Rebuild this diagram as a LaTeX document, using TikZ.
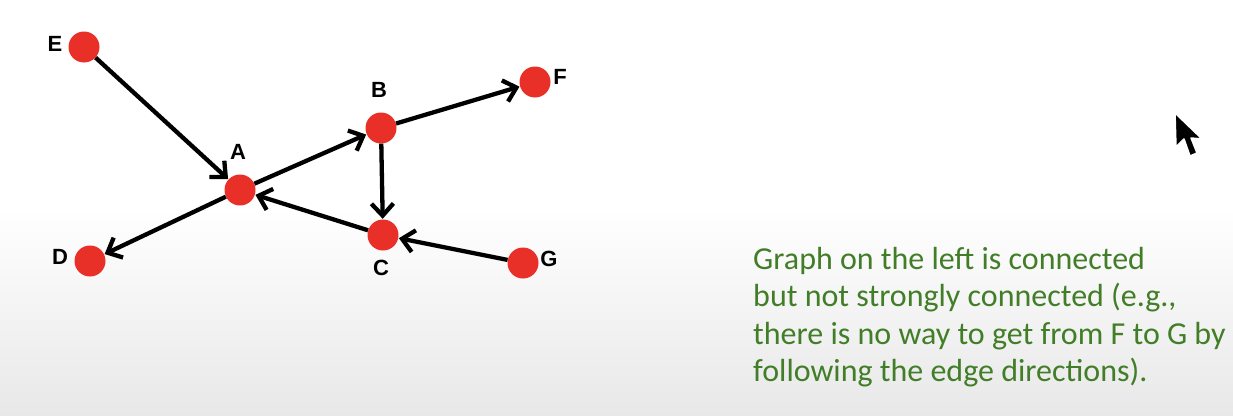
\documentclass[tikz,border=0pt]{standalone}
\usepackage{fontspec}
\setmainfont{Carlito}
\newfontfamily\labelfont{Liberation Sans}
\usetikzlibrary{arrows.meta}
\definecolor{noderd}{RGB}{232,48,40}
\definecolor{txtgreen}{RGB}{66,126,40}
\tikzset{
  vert/.style={circle,fill=noderd,minimum size=31pt,inner sep=0pt},
  vlabel/.style={font=\labelfont\bfseries\fontsize{22}{22}\selectfont,text=black,inner sep=0pt},
  edge/.style={line width=4.3pt,-{Straight Barb[length=12pt,width=22pt]},shorten >=0.5pt},
}
\begin{document}
\begin{tikzpicture}[x=1pt,y=-1pt]
\shade[top color=white,bottom color=black!9,middle color=white] (0,0) rectangle (1233,415);
\useasboundingbox (0,0) rectangle (1233,415);
% vertices
\node[vert] (E) at (84,47) {};
\node[vert] (A) at (240,190) {};
\node[vert] (B) at (381,128) {};
\node[vert] (F) at (535,82) {};
\node[vert] (C) at (383,235) {};
\node[vert] (D) at (90,261) {};
\node[vert] (G) at (523,263) {};
% labels
\node[vlabel] (lE) at (55,44) {E};
\node[vlabel] (lA) at (238,152) {A};
\node[vlabel] (lB) at (379,90) {B};
\node[vlabel] (lF) at (560,77) {F};
\node[vlabel] (lC) at (381,268) {C};
\node[vlabel] (lD) at (60,257) {D};
\node[vlabel] (lG) at (549,259) {G};
% edges
\draw[edge] (E) -- (A);
\draw[edge] (A) -- (B);
\draw[edge] (B) -- (F);
\draw[edge] (B) -- (C);
\draw[edge] (C) -- (A);
\draw[edge] (G) -- (C);
\draw[edge] (A) -- (D);
% text
\node[anchor=north west,align=left,text=txtgreen,inner sep=0pt,
  font=\fontsize{32}{37.5}\selectfont] (note) at (753,247)
  {Graph on the left is connected\\
   but not strongly connected (e.g.,\\
   there is no way to get from F to G by\\
   following the edge directions).};
% cursor
\filldraw[fill=black,draw=white,line width=1.5pt,line join=round]
  (1175,113) coordinate (tip) -- (1176,147) -- (1184,139) -- (1190,156) -- (1197,153) -- (1191,138) -- (1202,139) -- cycle;
\end{tikzpicture}
\end{document}
